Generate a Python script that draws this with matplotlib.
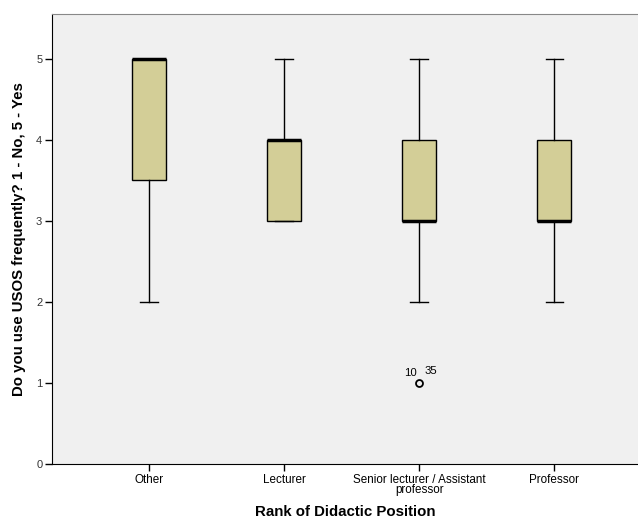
import matplotlib
matplotlib.use("Agg")
import matplotlib.pyplot as plt

plt.rcParams['font.family'] = ['Liberation Sans', 'DejaVu Sans']

categories = ["Other", "Lecturer", "Senior lecturer / Assistant\nprofessor", "Professor"]
whisker_low = [2, 3, 2, 2]
q1 = [3.5, 3, 3, 3]
medians = [5, 4, 3, 3]
q3 = [5, 4, 4, 4]
whisker_high = [5, 5, 5, 5]
outliers = [[], [], [1], []]
outlier_labels = [[], [], ["10", "35"], []]

stats = []
for i in range(len(categories)):
    stats.append({
        "whislo": whisker_low[i], "q1": q1[i], "med": medians[i],
        "q3": q3[i], "whishi": whisker_high[i], "fliers": outliers[i],
    })

fig = plt.figure(figsize=(6.38, 5.23), dpi=100)
ax = fig.add_axes([0.0815, 0.1128, 0.9185, 0.8602])
ax.set_facecolor("#f0f0f0")

positions = [1, 2, 3, 4]
ax.bxp(stats, positions=positions, widths=0.25, patch_artist=True,
       boxprops=dict(facecolor="#d3ce97", edgecolor="black", linewidth=1.0),
       medianprops=dict(color="black", linewidth=2.5),
       whiskerprops=dict(color="black", linewidth=1.0),
       capprops=dict(color="black", linewidth=1.0),
       capwidths=0.13,
       flierprops=dict(marker="o", markerfacecolor="none", markeredgecolor="black",
                       markersize=5, markeredgewidth=1.3))

for i, labs in enumerate(outlier_labels):
    if labs:
        y = outliers[i][0]
        ax.text(positions[i] - 0.02, y + 0.06, labs[0], ha="right", va="bottom", fontsize=8.2)
        ax.text(positions[i] + 0.04, y + 0.09, labs[1], ha="left", va="bottom", fontsize=8.2)

ax.set_xlim(0.28, 4.62)
ax.set_ylim(0, 5.55)
ax.set_xticks(positions)
ax.set_xticklabels(categories, fontsize=8.4, linespacing=0.85)
ax.set_yticks([0, 1, 2, 3, 4, 5])
ax.set_yticklabels(["0", "1", "2", "3", "4", "5"], fontsize=8, color="#333333")
ax.tick_params(axis="both", direction="out", length=5, width=1, pad=2)

ax.spines["top"].set_color("#888888")
ax.spines["right"].set_visible(False)
ax.spines["left"].set_color("black")
ax.spines["bottom"].set_color("black")

ax.set_xlabel("Rank of Didactic Position", fontsize=10.8, fontweight="bold", labelpad=6)
ax.set_ylabel("Do you use USOS frequently? 1 - No, 5 - Yes", fontsize=10.8, fontweight="bold", labelpad=7)

fig.savefig("out.png", dpi=100)
